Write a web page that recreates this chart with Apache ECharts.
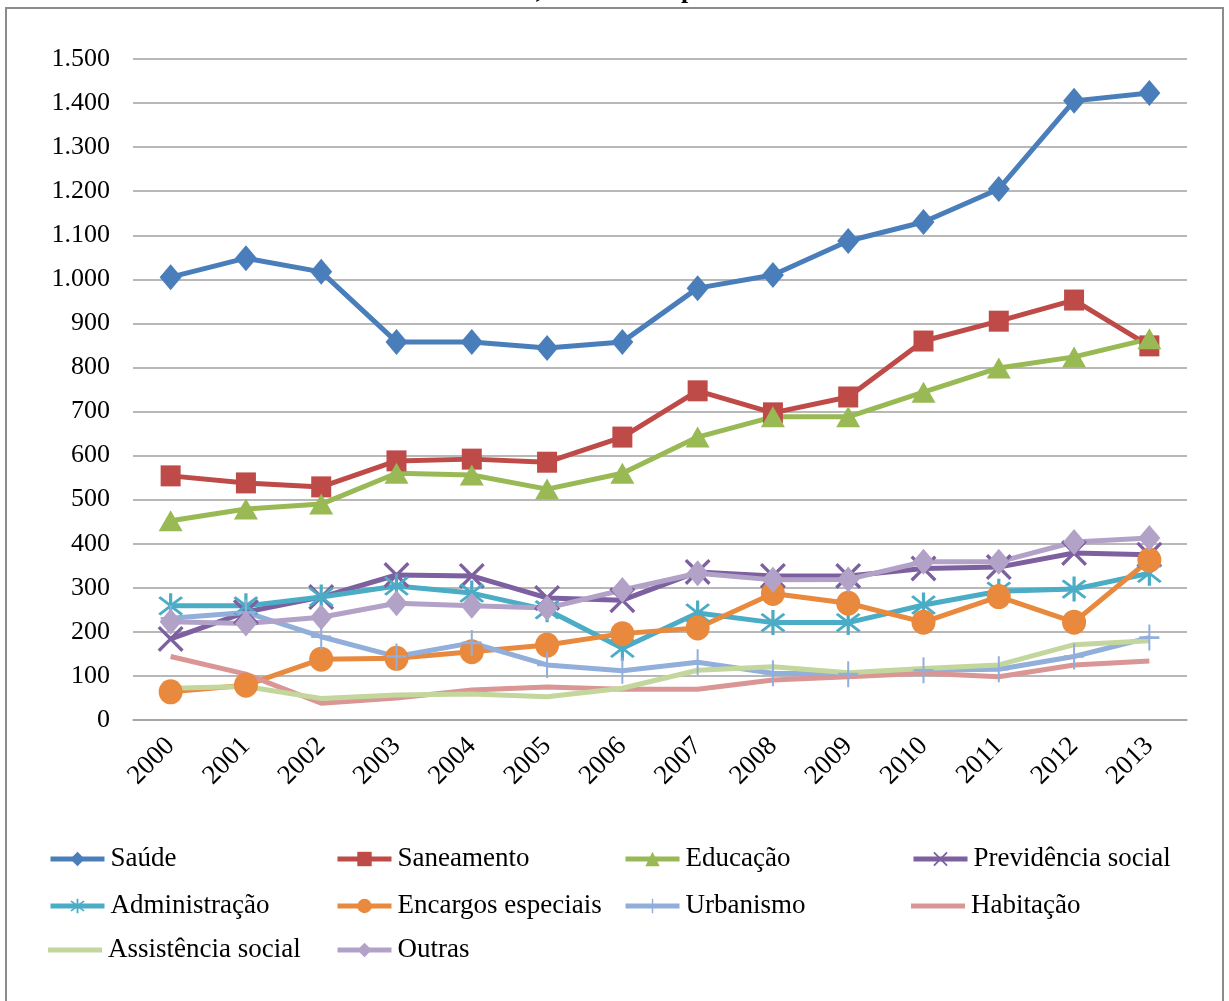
<!DOCTYPE html>
<html>
<head>
<meta charset="utf-8">
<title>Despesas por função</title>
<script src="https://cdn.jsdelivr.net/npm/echarts@6/dist/echarts.min.js"></script>
<style>
  html, body { margin: 0; padding: 0; background: #fff; }
  #chart { width: 1229px; height: 1001px; }
</style>
</head>
<body>
<div id="chart"></div>
<script>
// Anos
const years = ['2000','2001','2002','2003','2004','2005','2006','2007','2008','2009','2010','2011','2012','2013'];

// Valores por função
const saude         = [1005, 1048, 1017, 858, 858, 844, 858, 980, 1010, 1087, 1130, 1205, 1405, 1423];
const saneamento    = [554, 538, 529, 588, 592, 585, 642, 747, 697, 733, 860, 905, 953, 849];
const educacao      = [452, 479, 490, 560, 556, 524, 560, 642, 688, 688, 744, 799, 824, 865];
const previdencia   = [184, 245, 279, 329, 327, 277, 272, 336, 327, 327, 344, 347, 379, 375];
const administracao = [259, 259, 279, 304, 288, 250, 163, 243, 221, 221, 261, 292, 297, 333];
const encargos      = [64, 79, 138, 140, 155, 170, 196, 209, 287, 265, 222, 280, 222, 363];
const urbanismo     = [231, 244, 189, 144, 175, 125, 112, 131, 106, 104, 113, 115, 144, 187];
const habitacao     = [144, 104, 38, 50, 68, 75, 70, 70, 91, 98, 106, 98, 125, 134];
const assistencia   = [72, 76, 49, 57, 59, 53, 72, 113, 121, 107, 117, 125, 171, 180];
const outras        = [223, 219, 233, 265, 259, 254, 295, 333, 318, 319, 359, 359, 404, 413];

// Rótulos do eixo vertical
const yTicks = { min: 0, max: 1500, step: 100 };

const FONT = '"Liberation Serif", "Times New Roman", serif';

// Marcadores de traço fino (x, asterisco, cruz) como polígonos
function armsPath(angles, R, w) {
  const pts = [];
  const n = angles.length;
  for (let i = 0; i < n; i++) {
    const t = angles[i] * Math.PI / 180;
    let tn = angles[(i + 1) % n];
    if (tn <= angles[i]) tn += 360;
    const tnr = tn * Math.PI / 180;
    const dx = Math.cos(t), dy = Math.sin(t);
    const px = -dy, py = dx;
    pts.push([R * dx - w * px, R * dy - w * py]);
    pts.push([R * dx + w * px, R * dy + w * py]);
    const mid = (t + tnr) / 2, g = (tnr - t) / 2;
    const r = w / Math.sin(g);
    pts.push([r * Math.cos(mid), r * Math.sin(mid)]);
  }
  return 'path://M' + pts.map(p => (p[0] + R).toFixed(2) + ',' + (p[1] + R).toFixed(2)).join(' L') + ' Z';
}
const symX = armsPath([45, 135, 225, 315], 50, 5);
const symStar = armsPath([45, 90, 135, 225, 270, 315], 50, 5);
const symPlus = armsPath([0, 90, 180, 270], 50, 5);

const seriesDefs = [
  { name: 'Saúde',              data: saude,         color: '#4A7EBB', symbol: 'diamond',  size: [22, 26] },
  { name: 'Saneamento',         data: saneamento,    color: '#BE4B48', symbol: 'rect',     size: [20, 21] },
  { name: 'Educação',           data: educacao,      color: '#98B954', symbol: 'triangle', size: [24, 21] },
  { name: 'Previdência social', data: previdencia,   color: '#7D60A0', symbol: symX,       size: [26, 26] },
  { name: 'Administração',      data: administracao, color: '#4BACC6', symbol: symStar,    size: [25, 25] },
  { name: 'Encargos especiais', data: encargos,      color: '#E8893E', symbol: 'circle',   size: [24, 25] },
  { name: 'Urbanismo',          data: urbanismo,     color: '#92AEDA', symbol: symPlus,    size: [20, 26] },
  { name: 'Habitação',          data: habitacao,     color: '#D99694', symbol: 'none',     size: [0, 0] },
  { name: 'Assistência social', data: assistencia,   color: '#C3D69B', symbol: 'none',     size: [0, 0] },
  { name: 'Outras',             data: outras,        color: '#B3A2C7', symbol: 'diamond',  size: [22, 26] }
];

// Legenda em grade de 4 colunas; séries sem marcador usam um traço simples
const legendCols = [48, 335, 623, 911];
const legendRows = [859, 906, 950];
const legends = seriesDefs.map((s, i) => {
  const plain = s.symbol === 'none';
  return {
    data: plain ? [{ name: s.name, icon: 'rect' }] : [s.name],
    left: legendCols[i % 4],
    top: legendRows[Math.floor(i / 4)] - 14,
    itemWidth: 54,
    itemHeight: plain ? 5 : 18,
    itemGap: 0,
    padding: 0,
    selectedMode: false,
    lineStyle: { width: 5 },
    textStyle: { fontFamily: FONT, fontSize: 27, color: '#000', lineHeight: 28, padding: [0, 0, 0, 1] }
  };
});

const fmt = v => String(v).replace(/\B(?=(\d{3})+(?!\d))/g, '.');

const chart = echarts.init(document.getElementById('chart'), null, { renderer: 'canvas' });
chart.setOption({
  animation: false,
  backgroundColor: '#fff',
  graphic: [
    {
      type: 'rect', z: -10,
      shape: { x: 6, y: 8, width: 1217, height: 1010 },
      style: { fill: '#fff', stroke: '#8c8c8c', lineWidth: 2 }
    },
    {
      type: 'text', z: -5,
      x: 600, y: 4,
      style: {
        text: 'constantes de 2013, atualizados pelo IPCA-IBGE',
        font: 'bold 26px ' + FONT,
        fill: '#000',
        align: 'center',
        verticalAlign: 'bottom'
      }
    }
  ],
  legend: legends,
  grid: { left: 133, right: 42, top: 59, bottom: 281, containLabel: false },
  xAxis: {
    type: 'category',
    data: years,
    boundaryGap: true,
    axisLine: { show: true, lineStyle: { color: '#a0a0a0', width: 1.5 } },
    axisTick: { show: false },
    axisLabel: { rotate: 45, margin: 22, fontFamily: FONT, fontSize: 27, color: '#000' }
  },
  yAxis: {
    type: 'value',
    min: yTicks.min, max: yTicks.max, interval: yTicks.step,
    axisLine: { show: false },
    axisTick: { show: false },
    splitLine: { lineStyle: { color: '#a0a0a0', width: 1.5 } },
    axisLabel: { margin: 23, fontFamily: FONT, fontSize: 26, color: '#000', formatter: fmt }
  },
  series: seriesDefs.map(s => ({
    name: s.name,
    type: 'line',
    data: s.data,
    symbol: s.symbol,
    symbolSize: s.size,
    showAllSymbol: true,
    color: s.color,
    lineStyle: { color: s.color, width: 5 },
    itemStyle: { color: s.color, borderWidth: 0 },
    emphasis: { disabled: true }
  }))
});
</script>
</body>
</html>
